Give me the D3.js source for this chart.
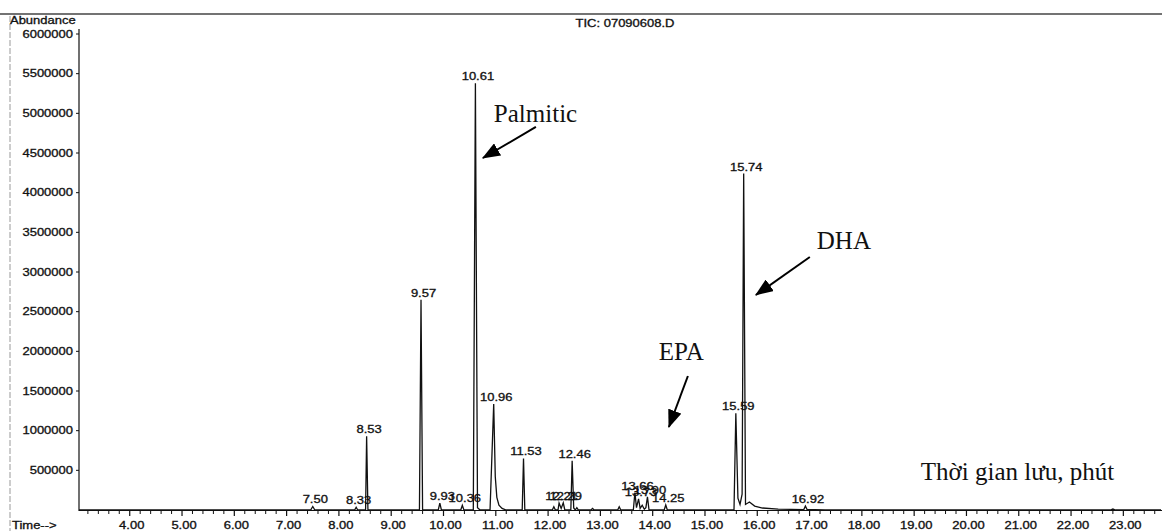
<!DOCTYPE html>
<html>
<head>
<meta charset="utf-8">
<script src="https://cdn.jsdelivr.net/npm/d3@7"></script>
<style>
  html, body { margin: 0; padding: 0; background: #fff; }
  svg { display: block; }
  .sans { font-family: "Liberation Sans", Arial, sans-serif; fill: #111; stroke: #111; stroke-width: 0.3px; }
  .serif { font-family: "Liberation Serif", "Times New Roman", serif; fill: #111; }
</style>
</head>
<body>
<svg id="chart" width="1162" height="531"></svg>
<script>
// ---- Data ----
const title = "TIC: 07090608.D";
const yTitle = "Abundance";
const xTitle = "Time-->";
const yTicks = [500000, 1000000, 1500000, 2000000, 2500000, 3000000, 3500000, 4000000, 4500000, 5000000, 5500000, 6000000];
const xTicks = [4, 5, 6, 7, 8, 9, 10, 11, 12, 13, 14, 15, 16, 17, 18, 19, 20, 21, 22, 23];

// Trace: retention time (min) and abundance
const traceTime = [3.03, 7.46, 7.50, 7.54, 8.30, 8.33, 8.36, 8.51, 8.53, 8.555, 9.54, 9.57, 9.60,
  9.90, 9.93, 9.96, 10.33, 10.36, 10.39, 10.57, 10.61, 10.65, 10.70, 10.89, 10.96, 10.99, 11.02, 11.06, 11.12, 11.20,
  11.505, 11.53, 11.555, 12.08, 12.11, 12.14, 12.19, 12.21, 12.25, 12.29, 12.32, 12.435, 12.46, 12.49, 12.52, 12.55, 12.58,
  12.82, 12.85, 12.88, 13.33, 13.36, 13.39, 13.63, 13.66, 13.69, 13.73, 13.76, 13.80, 13.84, 13.87, 13.90, 13.93,
  14.22, 14.25, 14.28, 15.40, 15.555, 15.59, 15.63, 15.67, 15.71, 15.74, 15.775, 15.85, 15.95, 16.10, 16.40,
  16.89, 16.92, 16.95, 17.10, 17.30, 22.75, 22.80, 22.85, 23.72];
const traceAbund = [0, 0, 45000, 0, 0, 35000, 0, 0, 930000, 0, 0, 2650000, 0,
  0, 88000, 0, 0, 60000, 0, 0, 5380000, 30000, 0, 0, 1335000, 420000, 160000, 60000, 20000, 0,
  0, 650000, 0, 0, 40000, 0, 0, 88000, 20000, 90000, 0, 0, 620000, 25000, 0, 30000, 0,
  0, 20000, 0, 0, 40000, 0, 0, 220000, 30000, 140000, 20000, 60000, 10000, 30000, 165000, 0,
  0, 63000, 0, 0, 0, 1220000, 150000, 70000, 200000, 4240000, 70000, 100000, 50000, 25000, 12000,
  5000, 50000, 8000, 4000, 0, 0, 12000, 0, 0];

// Labelled peaks: retention time and apex abundance
const peakTimes = [7.50, 8.33, 8.53, 9.57, 9.93, 10.36, 10.61, 10.96, 11.53, 12.21, 12.29, 12.46, 13.66, 13.73, 13.90, 14.25, 15.59, 15.74, 16.92];
const peakHeights = [45000, 35000, 930000, 2650000, 88000, 60000, 5380000, 1335000, 650000, 88000, 90000, 620000, 220000, 140000, 165000, 63000, 1220000, 4240000, 50000];

// Annotations (data coordinates: text anchor, arrow start, arrow tip)
const annoText = ["Palmitic", "EPA", "DHA", "Thời gian lưu, phút"];
const annoTextT = [10.963, 14.116, 17.138, 19.128];
const annoTextA = [4891000, 1891000, 3290000, 378000];
const arrowFromT = [11.767, 14.673, 17.005];
const arrowFromA = [4828000, 1689000, 3189000];
const arrowToT = [10.753, 14.310, 15.973];
const arrowToA = [4437000, 1046000, 2710000];

// ---- Drawing ----
const svg = d3.select("#chart");
const x = d3.scaleLinear().domain([3.03, 23.72]).range([79, 1161]);
const y = d3.scaleLinear().domain([0, 6000000]).range([510, 34]);
const SX = 1.3; // horizontal stretch of the printout's sans text

function sansText(g, tx, ty, str, anchor, size) {
  return g.append("text").attr("class", "sans")
    .attr("transform", `translate(${tx},${ty}) scale(${SX},1)`)
    .attr("text-anchor", anchor || "start")
    .attr("font-size", size || 10)
    .text(str);
}

// frame lines
svg.append("line").attr("x1", 0).attr("x2", 1162).attr("y1", 14).attr("y2", 14)
  .attr("stroke", "#444").attr("stroke-width", 1.6);
svg.append("line").attr("x1", 10).attr("x2", 10).attr("y1", 16).attr("y2", 531)
  .attr("stroke", "#999").attr("stroke-width", 1).attr("stroke-dasharray", "6,2");

// y axis
const yAxis = svg.append("g");
yAxis.append("line").attr("x1", x.range()[0]).attr("x2", x.range()[0])
  .attr("y1", 29).attr("y2", y(0) + 1).attr("stroke", "#111").attr("stroke-width", 1.2);
yTicks.forEach(v => {
  yAxis.append("line").attr("x1", x.range()[0] - 3).attr("x2", x.range()[0])
    .attr("y1", y(v)).attr("y2", y(v)).attr("stroke", "#111");
  sansText(yAxis, 73, y(v) + 3.5, d3.format("d")(v), "end", 10);
});
sansText(svg, 10, 24, yTitle, "start", 10);

// x axis
const xAxis = svg.append("g");
xAxis.append("line").attr("x1", x.range()[0]).attr("x2", 1162)
  .attr("y1", y(0) + 0.5).attr("y2", y(0) + 0.5).attr("stroke", "#111").attr("stroke-width", 1.2);
const minor = d3.range(16, 119).map(i => i / 5).filter(t => t > 3.03 && t < 23.72);
minor.forEach(t => {
  const major = Math.abs(t - Math.round(t)) < 1e-6;
  xAxis.append("line").attr("x1", x(t)).attr("x2", x(t))
    .attr("y1", y(0) + 0.5).attr("y2", y(0) + (major ? 6 : 4))
    .attr("stroke", "#111").attr("stroke-width", major ? 1.2 : 1);
});
xTicks.forEach(t => {
  sansText(xAxis, x(t) + 2, 529, d3.format(".2f")(t), "middle", 10);
});
sansText(svg, 12, 529, xTitle, "start", 10);

// title
sansText(svg, 625, 27, title, "middle", 10);

// trace
const pts = traceTime.map((t, i) => [t, traceAbund[i]]);
svg.append("path").datum(pts)
  .attr("d", d3.line().x(d => x(d[0])).y(d => y(d[1])))
  .attr("fill", "none").attr("stroke", "#111").attr("stroke-width", 1.3)
  .attr("stroke-linejoin", "miter");

// peak labels
peakTimes.forEach((t, i) => {
  sansText(svg, x(t) + 2.5, y(peakHeights[i]) - 3, d3.format(".2f")(t), "middle", 10);
});

// arrows
const defs = svg.append("defs");
defs.append("marker").attr("id", "ah").attr("markerUnits", "userSpaceOnUse")
  .attr("markerWidth", 18).attr("markerHeight", 14).attr("refX", 17).attr("refY", 7)
  .attr("orient", "auto")
  .append("path").attr("d", "M0,0 L18,7 L0,14 Z").attr("fill", "#000");
arrowFromT.forEach((t, i) => {
  svg.append("line")
    .attr("x1", x(t)).attr("y1", y(arrowFromA[i]))
    .attr("x2", x(arrowToT[i])).attr("y2", y(arrowToA[i]))
    .attr("stroke", "#000").attr("stroke-width", 2)
    .attr("marker-end", "url(#ah)");
});

// annotation texts
annoText.forEach((s, i) => {
  svg.append("text").attr("class", "serif")
    .attr("x", x(annoTextT[i])).attr("y", y(annoTextA[i]))
    .attr("font-size", 25).text(s);
});
</script>
</body>
</html>
